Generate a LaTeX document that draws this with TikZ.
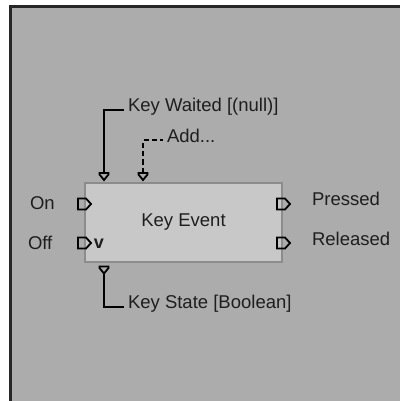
\documentclass[tikz,border=0pt]{standalone}
\usepackage{fontspec}
\setmainfont{Liberation Sans}
\usepackage{xcolor}
\usepackage{tikz}
\usetikzlibrary{positioning}
\definecolor{panel}{HTML}{ACACAC}
\definecolor{blockfill}{HTML}{C8C8C8}
\definecolor{blockedge}{HTML}{8C8C8C}
\definecolor{ink}{HTML}{1E1E1E}

\begin{document}
\begin{tikzpicture}[x=0.5pt,y=-0.5pt,
  lbl/.style={anchor=west,inner sep=2pt,outer sep=0pt,text=ink,
    font=\fontsize{9.25}{11}\selectfont},
  block/.style={draw=blockedge,line width=0.9pt,fill=blockfill,
    minimum width=98.5pt,minimum height=39.5pt,inner sep=0pt,
    text=ink,font=\fontsize{9.25}{11}\selectfont},
  portline/.style={draw=black,line width=0.9pt,line join=miter},
  wire/.style={draw=black,line width=0.9pt},
  portr/.pic={\draw[portline] (0,-5.5) -- (8,-5.5) -- (13,0) -- (8,5.5) -- (0,5.5) -- cycle;},
  portd/.pic={\draw[portline] (-4.5,0) -- (4.5,0) -- (4.5,1.5) -- (0,7) -- (-4.5,1.5) -- cycle;
    \coordinate (-top) at (0,0);
    \coordinate (-bot) at (0,7);}]
\useasboundingbox (0,0) rectangle (400,401);
\clip (0,0) rectangle (400,401);
\fill[white] (0,0) rectangle (400,401);
% panel
\fill[panel] (10.5,6.5) rectangle (420,420);
\draw[line width=1.3pt,draw=black!85] (10.5,420) -- (10.5,6.5) -- (420,6.5);
% block
\node[block] (event) at (183.5,222.5) {Key Event};
\pic at (78,204) {portr};
\pic at (78,243) {portr};
\pic at (277,204) {portr};
\pic at (277,243) {portr};
\pic (kwport) at (104,173) {portd};
\pic (addport) at (143,173) {portd};
\pic (ksport) at (104,266.5) {portd};
\node[text=ink,inner sep=0pt,font=\fontsize{9}{10}\selectfont\bfseries] (flag) at (99,243.5) {v};
% labels
\node[lbl] (on) at (26,203.5) {On};
\node[lbl] (off) at (24,243) {Off};
\node[lbl] (pressed) at (308,199) {Pressed};
\node[lbl] (released) at (308,239) {Released};
\node[lbl] (waited) at (124,107) {Key Waited [(null)]};
\node[lbl] (add) at (163,135.4) {Add...};
\node[lbl] (state) at (124,303.5) {Key State [Boolean]};
% connectors
\draw[wire] (kwport-top) |- ([yshift=-1.5pt]waited.west);
\draw[wire,dash pattern=on 2.6pt off 1.6pt] (addport-top) |- ([yshift=-2.3pt]add.west);
\draw[wire] (ksport-bot) |- ([yshift=-1.75pt]state.west);
\end{tikzpicture}
\end{document}
